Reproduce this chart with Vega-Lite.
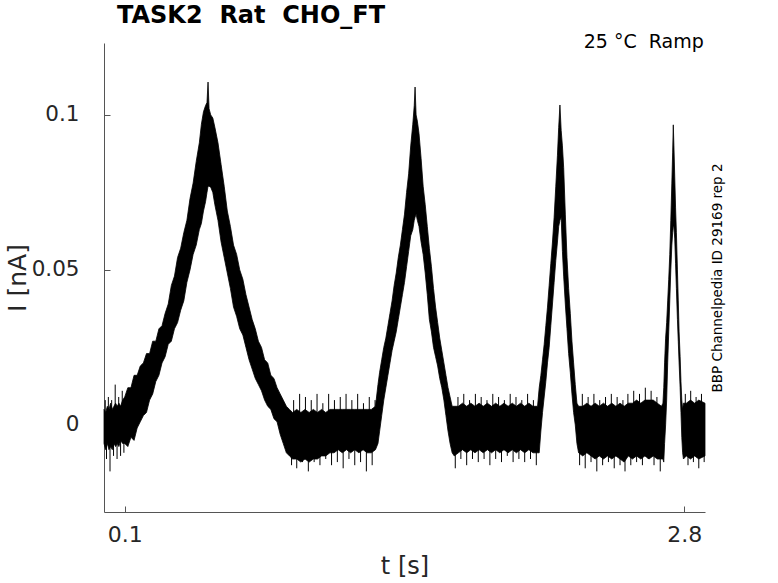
{
  "$schema": "https://vega.github.io/schema/vega-lite/v6.json",
  "width": 601,
  "height": 469,
  "autosize": "none",
  "padding": {"left": 104, "top": 43, "right": 73, "bottom": 71},
  "background": "white",
  "title": {
    "text": "TASK2\u00a0 Rat\u00a0 CHO_FT",
    "anchor": "start",
    "frame": "group",
    "dx": 13,
    "dy": 30,
    "offset": 16,
    "baseline": "alphabetic",
    "font": "DejaVu Sans",
    "fontSize": 24,
    "fontWeight": "bold",
    "color": "black"
  },
  "config": {
    "view": {"stroke": null},
    "axis": {
      "grid": false,
      "labelFont": "DejaVu Sans",
      "titleFont": "DejaVu Sans",
      "labelColor": "#262626",
      "titleColor": "#262626",
      "domainColor": "#555555",
      "tickColor": "#555555",
      "titleFontWeight": "normal"
    }
  },
  "datasets": {
    "trace": [
      {"t": 0.000, "lo": -0.006, "hi": 0.005},
      {"t": 0.008, "lo": -0.008, "hi": 0.004},
      {"t": 0.016, "lo": -0.006, "hi": 0.006},
      {"t": 0.024, "lo": -0.008, "hi": 0.005},
      {"t": 0.032, "lo": -0.007, "hi": 0.007},
      {"t": 0.040, "lo": -0.008, "hi": 0.005},
      {"t": 0.048, "lo": -0.006, "hi": 0.006},
      {"t": 0.056, "lo": -0.007, "hi": 0.007},
      {"t": 0.064, "lo": -0.006, "hi": 0.006},
      {"t": 0.072, "lo": -0.007, "hi": 0.007},
      {"t": 0.080, "lo": -0.005, "hi": 0.006},
      {"t": 0.090, "lo": -0.006, "hi": 0.008},
      {"t": 0.100, "lo": -0.006, "hi": 0.009},
      {"t": 0.115, "lo": -0.007, "hi": 0.012},
      {"t": 0.130, "lo": -0.004, "hi": 0.012},
      {"t": 0.145, "lo": -0.005, "hi": 0.016},
      {"t": 0.160, "lo": -0.001, "hi": 0.016},
      {"t": 0.175, "lo": 0.001, "hi": 0.019},
      {"t": 0.190, "lo": 0.003, "hi": 0.020},
      {"t": 0.205, "lo": 0.004, "hi": 0.023},
      {"t": 0.220, "lo": 0.008, "hi": 0.023},
      {"t": 0.235, "lo": 0.010, "hi": 0.027},
      {"t": 0.250, "lo": 0.014, "hi": 0.027},
      {"t": 0.265, "lo": 0.016, "hi": 0.031},
      {"t": 0.280, "lo": 0.020, "hi": 0.032},
      {"t": 0.295, "lo": 0.022, "hi": 0.036},
      {"t": 0.310, "lo": 0.026, "hi": 0.039},
      {"t": 0.325, "lo": 0.027, "hi": 0.045},
      {"t": 0.340, "lo": 0.031, "hi": 0.048},
      {"t": 0.355, "lo": 0.033, "hi": 0.054},
      {"t": 0.370, "lo": 0.037, "hi": 0.057},
      {"t": 0.385, "lo": 0.040, "hi": 0.062},
      {"t": 0.400, "lo": 0.046, "hi": 0.066},
      {"t": 0.415, "lo": 0.050, "hi": 0.073},
      {"t": 0.430, "lo": 0.055, "hi": 0.078},
      {"t": 0.445, "lo": 0.058, "hi": 0.085},
      {"t": 0.460, "lo": 0.063, "hi": 0.091},
      {"t": 0.470, "lo": 0.065, "hi": 0.097},
      {"t": 0.480, "lo": 0.069, "hi": 0.101},
      {"t": 0.490, "lo": 0.072, "hi": 0.103},
      {"t": 0.497, "lo": 0.075, "hi": 0.104},
      {"t": 0.502, "lo": 0.077, "hi": 0.1106},
      {"t": 0.507, "lo": 0.077, "hi": 0.102},
      {"t": 0.515, "lo": 0.0767, "hi": 0.100},
      {"t": 0.525, "lo": 0.075, "hi": 0.099},
      {"t": 0.535, "lo": 0.071, "hi": 0.096},
      {"t": 0.550, "lo": 0.066, "hi": 0.091},
      {"t": 0.565, "lo": 0.059, "hi": 0.084},
      {"t": 0.580, "lo": 0.054, "hi": 0.077},
      {"t": 0.595, "lo": 0.049, "hi": 0.069},
      {"t": 0.610, "lo": 0.044, "hi": 0.064},
      {"t": 0.625, "lo": 0.038, "hi": 0.058},
      {"t": 0.640, "lo": 0.035, "hi": 0.055},
      {"t": 0.655, "lo": 0.031, "hi": 0.050},
      {"t": 0.670, "lo": 0.029, "hi": 0.047},
      {"t": 0.685, "lo": 0.025, "hi": 0.042},
      {"t": 0.700, "lo": 0.021, "hi": 0.038},
      {"t": 0.715, "lo": 0.018, "hi": 0.034},
      {"t": 0.730, "lo": 0.015, "hi": 0.031},
      {"t": 0.745, "lo": 0.013, "hi": 0.027},
      {"t": 0.760, "lo": 0.011, "hi": 0.025},
      {"t": 0.775, "lo": 0.008, "hi": 0.021},
      {"t": 0.790, "lo": 0.006, "hi": 0.020},
      {"t": 0.805, "lo": 0.005, "hi": 0.016},
      {"t": 0.820, "lo": 0.002, "hi": 0.015},
      {"t": 0.835, "lo": 0.001, "hi": 0.012},
      {"t": 0.850, "lo": -0.003, "hi": 0.010},
      {"t": 0.865, "lo": -0.006, "hi": 0.008},
      {"t": 0.880, "lo": -0.009, "hi": 0.006},
      {"t": 0.895, "lo": -0.010, "hi": 0.005},
      {"t": 0.910, "lo": -0.011, "hi": 0.004},
      {"t": 0.930, "lo": -0.011, "hi": 0.005},
      {"t": 0.950, "lo": -0.012, "hi": 0.004},
      {"t": 0.970, "lo": -0.011, "hi": 0.005},
      {"t": 0.990, "lo": -0.012, "hi": 0.004},
      {"t": 1.010, "lo": -0.011, "hi": 0.005},
      {"t": 1.030, "lo": -0.011, "hi": 0.004},
      {"t": 1.050, "lo": -0.010, "hi": 0.005},
      {"t": 1.070, "lo": -0.010, "hi": 0.004},
      {"t": 1.090, "lo": -0.009, "hi": 0.005},
      {"t": 1.110, "lo": -0.009, "hi": 0.005},
      {"t": 1.130, "lo": -0.008, "hi": 0.005},
      {"t": 1.150, "lo": -0.009, "hi": 0.005},
      {"t": 1.170, "lo": -0.008, "hi": 0.005},
      {"t": 1.190, "lo": -0.009, "hi": 0.005},
      {"t": 1.210, "lo": -0.008, "hi": 0.005},
      {"t": 1.230, "lo": -0.009, "hi": 0.005},
      {"t": 1.250, "lo": -0.008, "hi": 0.005},
      {"t": 1.270, "lo": -0.009, "hi": 0.005},
      {"t": 1.290, "lo": -0.009, "hi": 0.005},
      {"t": 1.310, "lo": -0.008, "hi": 0.006},
      {"t": 1.322, "lo": -0.006, "hi": 0.013},
      {"t": 1.330, "lo": -0.002, "hi": 0.017},
      {"t": 1.340, "lo": 0.003, "hi": 0.021},
      {"t": 1.350, "lo": 0.008, "hi": 0.025},
      {"t": 1.360, "lo": 0.012, "hi": 0.028},
      {"t": 1.370, "lo": 0.016, "hi": 0.032},
      {"t": 1.380, "lo": 0.020, "hi": 0.036},
      {"t": 1.390, "lo": 0.024, "hi": 0.040},
      {"t": 1.400, "lo": 0.027, "hi": 0.045},
      {"t": 1.410, "lo": 0.030, "hi": 0.049},
      {"t": 1.420, "lo": 0.034, "hi": 0.054},
      {"t": 1.430, "lo": 0.038, "hi": 0.058},
      {"t": 1.440, "lo": 0.042, "hi": 0.063},
      {"t": 1.450, "lo": 0.046, "hi": 0.068},
      {"t": 1.460, "lo": 0.051, "hi": 0.075},
      {"t": 1.470, "lo": 0.056, "hi": 0.081},
      {"t": 1.480, "lo": 0.061, "hi": 0.090},
      {"t": 1.490, "lo": 0.063, "hi": 0.097},
      {"t": 1.497, "lo": 0.066, "hi": 0.103},
      {"t": 1.501, "lo": 0.067, "hi": 0.109},
      {"t": 1.506, "lo": 0.068, "hi": 0.100},
      {"t": 1.512, "lo": 0.066, "hi": 0.098},
      {"t": 1.520, "lo": 0.064, "hi": 0.094},
      {"t": 1.530, "lo": 0.059, "hi": 0.086},
      {"t": 1.540, "lo": 0.055, "hi": 0.077},
      {"t": 1.550, "lo": 0.049, "hi": 0.071},
      {"t": 1.560, "lo": 0.042, "hi": 0.064},
      {"t": 1.570, "lo": 0.034, "hi": 0.057},
      {"t": 1.580, "lo": 0.030, "hi": 0.051},
      {"t": 1.590, "lo": 0.025, "hi": 0.044},
      {"t": 1.600, "lo": 0.022, "hi": 0.038},
      {"t": 1.610, "lo": 0.019, "hi": 0.033},
      {"t": 1.620, "lo": 0.015, "hi": 0.028},
      {"t": 1.630, "lo": 0.012, "hi": 0.024},
      {"t": 1.640, "lo": 0.008, "hi": 0.020},
      {"t": 1.650, "lo": 0.003, "hi": 0.016},
      {"t": 1.660, "lo": -0.002, "hi": 0.012},
      {"t": 1.670, "lo": -0.006, "hi": 0.009},
      {"t": 1.680, "lo": -0.009, "hi": 0.006},
      {"t": 1.690, "lo": -0.010, "hi": 0.006},
      {"t": 1.710, "lo": -0.009, "hi": 0.006},
      {"t": 1.730, "lo": -0.008, "hi": 0.007},
      {"t": 1.750, "lo": -0.009, "hi": 0.006},
      {"t": 1.770, "lo": -0.008, "hi": 0.007},
      {"t": 1.790, "lo": -0.009, "hi": 0.006},
      {"t": 1.810, "lo": -0.008, "hi": 0.007},
      {"t": 1.830, "lo": -0.009, "hi": 0.006},
      {"t": 1.850, "lo": -0.008, "hi": 0.007},
      {"t": 1.870, "lo": -0.009, "hi": 0.006},
      {"t": 1.890, "lo": -0.008, "hi": 0.007},
      {"t": 1.910, "lo": -0.009, "hi": 0.006},
      {"t": 1.930, "lo": -0.008, "hi": 0.007},
      {"t": 1.950, "lo": -0.009, "hi": 0.006},
      {"t": 1.970, "lo": -0.008, "hi": 0.007},
      {"t": 1.990, "lo": -0.009, "hi": 0.006},
      {"t": 2.010, "lo": -0.008, "hi": 0.007},
      {"t": 2.030, "lo": -0.009, "hi": 0.006},
      {"t": 2.050, "lo": -0.008, "hi": 0.007},
      {"t": 2.070, "lo": -0.009, "hi": 0.006},
      {"t": 2.092, "lo": -0.009, "hi": 0.006},
      {"t": 2.100, "lo": -0.009, "hi": 0.012},
      {"t": 2.108, "lo": -0.002, "hi": 0.016},
      {"t": 2.116, "lo": 0.004, "hi": 0.021},
      {"t": 2.124, "lo": 0.009, "hi": 0.026},
      {"t": 2.132, "lo": 0.014, "hi": 0.032},
      {"t": 2.140, "lo": 0.020, "hi": 0.038},
      {"t": 2.148, "lo": 0.025, "hi": 0.045},
      {"t": 2.156, "lo": 0.032, "hi": 0.052},
      {"t": 2.164, "lo": 0.039, "hi": 0.059},
      {"t": 2.172, "lo": 0.046, "hi": 0.067},
      {"t": 2.180, "lo": 0.053, "hi": 0.077},
      {"t": 2.188, "lo": 0.059, "hi": 0.087},
      {"t": 2.194, "lo": 0.064, "hi": 0.096},
      {"t": 2.200, "lo": 0.066, "hi": 0.1032},
      {"t": 2.206, "lo": 0.067, "hi": 0.095},
      {"t": 2.212, "lo": 0.056, "hi": 0.090},
      {"t": 2.218, "lo": 0.048, "hi": 0.083},
      {"t": 2.226, "lo": 0.039, "hi": 0.068},
      {"t": 2.234, "lo": 0.031, "hi": 0.054},
      {"t": 2.242, "lo": 0.023, "hi": 0.044},
      {"t": 2.250, "lo": 0.017, "hi": 0.036},
      {"t": 2.258, "lo": 0.010, "hi": 0.027},
      {"t": 2.266, "lo": 0.004, "hi": 0.020},
      {"t": 2.274, "lo": 0.000, "hi": 0.013},
      {"t": 2.282, "lo": -0.006, "hi": 0.007},
      {"t": 2.290, "lo": -0.009, "hi": 0.006},
      {"t": 2.310, "lo": -0.010, "hi": 0.006},
      {"t": 2.330, "lo": -0.009, "hi": 0.007},
      {"t": 2.350, "lo": -0.010, "hi": 0.006},
      {"t": 2.370, "lo": -0.011, "hi": 0.007},
      {"t": 2.390, "lo": -0.010, "hi": 0.006},
      {"t": 2.410, "lo": -0.011, "hi": 0.007},
      {"t": 2.430, "lo": -0.010, "hi": 0.006},
      {"t": 2.450, "lo": -0.011, "hi": 0.007},
      {"t": 2.470, "lo": -0.010, "hi": 0.006},
      {"t": 2.490, "lo": -0.011, "hi": 0.007},
      {"t": 2.510, "lo": -0.012, "hi": 0.006},
      {"t": 2.530, "lo": -0.010, "hi": 0.007},
      {"t": 2.550, "lo": -0.011, "hi": 0.007},
      {"t": 2.570, "lo": -0.010, "hi": 0.008},
      {"t": 2.590, "lo": -0.011, "hi": 0.007},
      {"t": 2.610, "lo": -0.010, "hi": 0.008},
      {"t": 2.630, "lo": -0.011, "hi": 0.008},
      {"t": 2.650, "lo": -0.010, "hi": 0.008},
      {"t": 2.670, "lo": -0.011, "hi": 0.007},
      {"t": 2.690, "lo": -0.011, "hi": 0.006},
      {"t": 2.697, "lo": -0.011, "hi": 0.007},
      {"t": 2.701, "lo": -0.012, "hi": 0.012},
      {"t": 2.705, "lo": -0.006, "hi": 0.020},
      {"t": 2.710, "lo": 0.000, "hi": 0.028},
      {"t": 2.715, "lo": 0.008, "hi": 0.033},
      {"t": 2.720, "lo": 0.020, "hi": 0.040},
      {"t": 2.725, "lo": 0.030, "hi": 0.047},
      {"t": 2.730, "lo": 0.040, "hi": 0.055},
      {"t": 2.735, "lo": 0.050, "hi": 0.066},
      {"t": 2.740, "lo": 0.058, "hi": 0.078},
      {"t": 2.744, "lo": 0.062, "hi": 0.088},
      {"t": 2.747, "lo": 0.064, "hi": 0.0968},
      {"t": 2.750, "lo": 0.064, "hi": 0.090},
      {"t": 2.754, "lo": 0.060, "hi": 0.080},
      {"t": 2.758, "lo": 0.052, "hi": 0.070},
      {"t": 2.762, "lo": 0.044, "hi": 0.062},
      {"t": 2.767, "lo": 0.034, "hi": 0.050},
      {"t": 2.771, "lo": 0.027, "hi": 0.040},
      {"t": 2.775, "lo": 0.020, "hi": 0.030},
      {"t": 2.780, "lo": 0.012, "hi": 0.022},
      {"t": 2.784, "lo": 0.004, "hi": 0.014},
      {"t": 2.788, "lo": -0.004, "hi": 0.008},
      {"t": 2.792, "lo": -0.009, "hi": 0.005},
      {"t": 2.796, "lo": -0.011, "hi": 0.007},
      {"t": 2.810, "lo": -0.010, "hi": 0.007},
      {"t": 2.830, "lo": -0.011, "hi": 0.008},
      {"t": 2.850, "lo": -0.010, "hi": 0.007},
      {"t": 2.870, "lo": -0.011, "hi": 0.008},
      {"t": 2.900, "lo": -0.010, "hi": 0.007}
    ],
    "spikes": [
      {"t": 0.006, "to": 0.008}, {"t": 0.012, "to": -0.011}, {"t": 0.021, "to": 0.009},
      {"t": 0.029, "to": -0.015}, {"t": 0.037, "to": 0.008}, {"t": 0.046, "to": -0.010},
      {"t": 0.054, "to": 0.013}, {"t": 0.063, "to": -0.011}, {"t": 0.071, "to": 0.009},
      {"t": 0.080, "to": -0.010}, {"t": 0.088, "to": 0.011}, {"t": 0.096, "to": -0.009},
      {"t": 0.905, "to": -0.013}, {"t": 0.915, "to": 0.008}, {"t": 0.930, "to": -0.014},
      {"t": 0.944, "to": 0.010}, {"t": 0.958, "to": -0.012}, {"t": 0.972, "to": 0.009},
      {"t": 0.986, "to": -0.015}, {"t": 1.000, "to": 0.008}, {"t": 1.014, "to": -0.012},
      {"t": 1.028, "to": 0.010}, {"t": 1.042, "to": -0.013}, {"t": 1.056, "to": 0.007},
      {"t": 1.070, "to": -0.011}, {"t": 1.084, "to": 0.010}, {"t": 1.098, "to": -0.013},
      {"t": 1.112, "to": 0.008}, {"t": 1.126, "to": -0.012}, {"t": 1.140, "to": 0.009},
      {"t": 1.154, "to": -0.014}, {"t": 1.168, "to": 0.010}, {"t": 1.182, "to": -0.011},
      {"t": 1.196, "to": 0.008}, {"t": 1.210, "to": -0.013}, {"t": 1.224, "to": 0.010},
      {"t": 1.238, "to": -0.012}, {"t": 1.252, "to": 0.007}, {"t": 1.266, "to": -0.015},
      {"t": 1.280, "to": 0.009}, {"t": 1.294, "to": -0.013}, {"t": 1.308, "to": 0.008},
      {"t": 1.695, "to": -0.014}, {"t": 1.708, "to": 0.009}, {"t": 1.722, "to": -0.011},
      {"t": 1.736, "to": 0.010}, {"t": 1.750, "to": -0.013}, {"t": 1.764, "to": 0.008},
      {"t": 1.778, "to": -0.011}, {"t": 1.792, "to": 0.010}, {"t": 1.806, "to": -0.012},
      {"t": 1.820, "to": 0.009}, {"t": 1.834, "to": -0.011}, {"t": 1.848, "to": 0.008},
      {"t": 1.862, "to": -0.013}, {"t": 1.876, "to": 0.010}, {"t": 1.890, "to": -0.011},
      {"t": 1.904, "to": 0.009}, {"t": 1.918, "to": -0.012}, {"t": 1.932, "to": 0.008},
      {"t": 1.946, "to": -0.010}, {"t": 1.960, "to": 0.010}, {"t": 1.974, "to": -0.012},
      {"t": 1.988, "to": 0.009}, {"t": 2.002, "to": -0.011}, {"t": 2.016, "to": 0.008},
      {"t": 2.030, "to": -0.012}, {"t": 2.044, "to": 0.010}, {"t": 2.058, "to": -0.011},
      {"t": 2.072, "to": 0.008}, {"t": 2.086, "to": -0.013},
      {"t": 2.295, "to": -0.013}, {"t": 2.308, "to": 0.010}, {"t": 2.322, "to": -0.014},
      {"t": 2.336, "to": 0.009}, {"t": 2.350, "to": -0.012}, {"t": 2.364, "to": 0.010},
      {"t": 2.378, "to": -0.015}, {"t": 2.392, "to": 0.008}, {"t": 2.406, "to": -0.013},
      {"t": 2.420, "to": 0.009}, {"t": 2.434, "to": -0.012}, {"t": 2.448, "to": 0.010},
      {"t": 2.462, "to": -0.014}, {"t": 2.476, "to": 0.009}, {"t": 2.490, "to": -0.013},
      {"t": 2.504, "to": 0.008}, {"t": 2.514, "to": -0.015}, {"t": 2.528, "to": 0.010},
      {"t": 2.542, "to": -0.013}, {"t": 2.556, "to": 0.011}, {"t": 2.570, "to": -0.012},
      {"t": 2.584, "to": 0.010}, {"t": 2.598, "to": -0.013}, {"t": 2.612, "to": 0.012},
      {"t": 2.626, "to": -0.011}, {"t": 2.640, "to": 0.011}, {"t": 2.654, "to": -0.013},
      {"t": 2.668, "to": 0.009}, {"t": 2.684, "to": -0.015},
      {"t": 2.805, "to": 0.010}, {"t": 2.818, "to": -0.013}, {"t": 2.831, "to": 0.011},
      {"t": 2.844, "to": -0.012}, {"t": 2.857, "to": 0.009}, {"t": 2.870, "to": -0.014},
      {"t": 2.883, "to": 0.010}, {"t": 2.896, "to": -0.012}
    ]
  },
  "layer": [
    {
      "data": {"name": "trace"},
      "mark": {"type": "area", "color": "black", "stroke": "black", "strokeWidth": 0.8, "interpolate": "linear"},
      "encoding": {
        "x": {
          "field": "t",
          "type": "quantitative",
          "scale": {"domain": [0, 2.9], "nice": false, "zero": false},
          "axis": {
            "values": [0.1, 2.8],
            "format": "~g",
            "title": "t [s]",
            "tickSize": -6,
            "labelPadding": 18,
            "labelFontSize": 22,
            "labelFlush": false,
            "labelBaseline": "top",
            "titleFontSize": 24,
            "titleY": 61,
            "titleBaseline": "alphabetic"
          }
        },
        "y": {
          "field": "lo",
          "type": "quantitative",
          "scale": {"domain": [-0.0281, 0.1232], "nice": false, "zero": false},
          "axis": {
            "values": [0, 0.05, 0.1],
            "format": "~g",
            "title": "I [nA]",
            "tickSize": -6,
            "labelPadding": 31,
            "labelFontSize": 21.5,
            "titleFontSize": 25,
            "titleAngle": 270,
            "titleX": -78.5,
            "titleY": 234.5,
            "titleAlign": "center",
            "titleBaseline": "alphabetic"
          }
        },
        "y2": {"field": "hi"}
      }
    },
    {
      "data": {"name": "spikes"},
      "mark": {"type": "rule", "color": "black", "strokeWidth": 1},
      "encoding": {
        "x": {"field": "t", "type": "quantitative"},
        "y": {"field": "to", "type": "quantitative"},
        "y2": {"datum": 0}
      }
    },
    {
      "data": {"values": [{"label": "25 °C\u00a0 Ramp"}]},
      "mark": {
        "type": "text",
        "align": "right",
        "baseline": "alphabetic",
        "font": "DejaVu Sans",
        "fontSize": 19,
        "color": "black"
      },
      "encoding": {
        "text": {"field": "label"},
        "x": {"datum": 2.894},
        "y": {"datum": 0.1216}
      }
    },
    {
      "data": {"values": [{"label": "BBP Channelpedia ID 29169 rep 2"}]},
      "mark": {
        "type": "text",
        "angle": 270,
        "align": "center",
        "baseline": "middle",
        "font": "DejaVu Sans",
        "fontSize": 13.5,
        "color": "black"
      },
      "encoding": {
        "text": {"field": "label"},
        "x": {"datum": 2.962},
        "y": {"datum": 0.0474}
      }
    }
  ]
}
